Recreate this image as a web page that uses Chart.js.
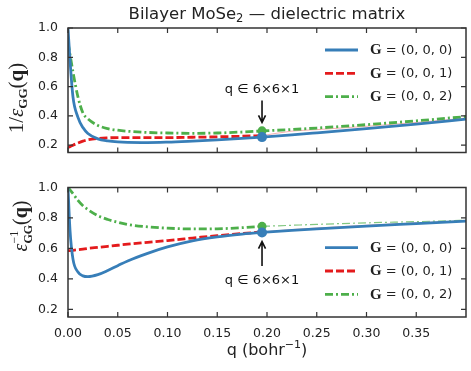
<!DOCTYPE html>
<html lang="en">
<head>
<meta charset="UTF-8">
<title>Bilayer MoSe2 — dielectric matrix</title>
<script src="https://cdn.jsdelivr.net/npm/chart.js"></script>
<style>
  body { margin: 0; background: #fff; }
  #wrap { position: relative; width: 471px; height: 371px; }
  canvas { position: absolute; left: 0; }
  #top { top: 0; }
  #bot { top: 170px; }
</style>
</head>
<body>
<div id="wrap">
  <canvas id="top" width="471" height="170"></canvas>
  <canvas id="bot" width="471" height="201"></canvas>
</div>
<script>
// q sampling (bohr^-1), shared by every curve
const q = [0, 0.002, 0.005, 0.01, 0.015, 0.02, 0.03, 0.04, 0.05, 0.06, 0.08, 0.10, 0.125, 0.15, 0.175, 0.195, 0.225, 0.25, 0.30, 0.35, 0.40];

// top panel: 1/eps_GG(q)
const topG000 = [1.00, 0.78, 0.53, 0.39, 0.32, 0.28, 0.243, 0.229, 0.222, 0.219, 0.218, 0.221, 0.228, 0.236, 0.246, 0.255, 0.270, 0.284, 0.313, 0.344, 0.378];
const topG001 = [0.185, 0.19, 0.20, 0.215, 0.228, 0.237, 0.246, 0.25, 0.252, 0.252, 0.252, 0.252, 0.254, 0.257, 0.261, 0.265, 0.296, 0.306, 0.329, 0.355, 0.385];
const topG002 = [0.90, 0.82, 0.70, 0.53, 0.42, 0.38, 0.335, 0.313, 0.302, 0.295, 0.287, 0.283, 0.281, 0.283, 0.29, 0.297, 0.307, 0.317, 0.34, 0.366, 0.395];

// bottom panel: eps^-1_GG(q)
const botG000 = [1.00, 0.72, 0.53, 0.445, 0.42, 0.415, 0.428, 0.455, 0.487, 0.518, 0.568, 0.610, 0.650, 0.676, 0.694, 0.705, 0.719, 0.729, 0.747, 0.763, 0.779];
const botG001 = [0.585, 0.586, 0.588, 0.592, 0.596, 0.60, 0.607, 0.614, 0.621, 0.628, 0.64, 0.652, 0.668, 0.684, 0.698, 0.708, 0.724, 0.734, 0.752, 0.768, 0.782];
const botG002 = [1.00, 0.985, 0.96, 0.915, 0.88, 0.855, 0.815, 0.79, 0.772, 0.757, 0.742, 0.733, 0.728, 0.729, 0.736, 0.745, 0.752, 0.758, 0.768, 0.776, 0.785];

// the 6x6x1 mesh point
const meshQ = [0.195];
const topDot000 = [0.255];
const topDot002 = [0.298];
const botDot000 = [0.705];
const botDot002 = [0.745];

const xTicks = [0, 0.05, 0.10, 0.15, 0.20, 0.25, 0.30, 0.35];
const yTicks = [0.2, 0.4, 0.6, 0.8, 1.0];
const gLabels = ['(0, 0, 0)', '(0, 0, 1)', '(0, 0, 2)'];

const BLUE = '#377eb8', RED = '#e41a1c', GREEN = '#4daf4a';
const keyStyle = [
  { color: BLUE, dash: [] },
  { color: RED, dash: [8, 3] },
  { color: GREEN, dash: [8, 3, 2, 3] }
];
const SANS = '"DejaVu Sans", sans-serif';
const SERIF = '"Liberation Serif", serif';

function pts(vals, lo, hi) {
  return q.map((x, i) => ({ x: x, y: vals[i] })).filter(p => p.x >= lo && p.x <= hi);
}
function dot(xs, ys) {
  return xs.map((x, i) => ({ x: x, y: ys[i] }));
}

// draws a list of [text, font, dy, advance] runs
function runs(ctx, parts, x, y, align) {
  let w = 0;
  parts.forEach(p => { ctx.font = p[1]; if (p[3] !== false) w += ctx.measureText(p[0]).width; });
  let cx = align === 'center' ? x - w / 2 : x;
  parts.forEach(p => {
    ctx.font = p[1];
    ctx.fillText(p[0], cx, y + (p[2] || 0));
    if (p[3] !== false) cx += ctx.measureText(p[0]).width;
  });
}

const frame = {
  id: 'frame',
  afterDatasetsDraw(chart) {
    const { ctx, chartArea: a, scales: { x, y } } = chart;
    ctx.save();
    ctx.strokeStyle = '#333';
    ctx.lineWidth = 1.5;
    ctx.strokeRect(a.left, a.top, a.right - a.left, a.bottom - a.top);
    ctx.lineWidth = 1.2;
    ctx.beginPath();
    x.ticks.forEach(t => {
      const px = x.getPixelForValue(t.value);
      ctx.moveTo(px, a.bottom); ctx.lineTo(px, a.bottom - 5);
      ctx.moveTo(px, a.top); ctx.lineTo(px, a.top + 5);
    });
    y.ticks.forEach(t => {
      const py = y.getPixelForValue(t.value);
      ctx.moveTo(a.left, py); ctx.lineTo(a.left + 5, py);
      ctx.moveTo(a.right, py); ctx.lineTo(a.right - 5, py);
    });
    ctx.stroke();
    ctx.restore();
  }
};

const keyBox = {
  id: 'keyBox',
  afterDraw(chart, args, opts) {
    const ctx = chart.ctx;
    ctx.save();
    gLabels.forEach((lab, i) => {
      const yy = opts.y + i * opts.step;
      ctx.strokeStyle = keyStyle[i].color;
      ctx.lineWidth = 2.8;
      ctx.setLineDash(keyStyle[i].dash);
      ctx.beginPath();
      ctx.moveTo(opts.x, yy); ctx.lineTo(opts.x + 33, yy);
      ctx.stroke();
      ctx.setLineDash([]);
      ctx.fillStyle = '#222';
      ctx.textBaseline = 'middle';
      runs(ctx, [['G', 'bold 15px ' + SERIF, 0], [' = ' + lab, '13px ' + SANS, 0]], opts.x + 45, yy + 0.5, 'left');
    });
    ctx.restore();
  }
};

const notes = {
  id: 'notes',
  afterDraw(chart, args, opts) {
    const { ctx, scales: { x, y } } = chart;
    ctx.save();
    ctx.fillStyle = '#111';
    ctx.strokeStyle = '#111';
    const px = x.getPixelForValue(opts.q);
    ctx.textAlign = 'center';
    ctx.textBaseline = 'middle';
    ctx.font = '13px ' + SANS;
    ctx.fillText('q ∈ 6×6×1', px, y.getPixelForValue(opts.text));
    const y0 = y.getPixelForValue(opts.from), y1 = y.getPixelForValue(opts.to);
    const d = y1 > y0 ? 1 : -1;
    ctx.lineWidth = 1.6;
    ctx.beginPath();
    ctx.moveTo(px, y0); ctx.lineTo(px, y1);
    ctx.moveTo(px - 3.5, y1 - d * 7); ctx.lineTo(px, y1); ctx.lineTo(px + 3.5, y1 - d * 7);
    ctx.stroke();

    // y axis label, rotated
    ctx.textAlign = 'left';
    ctx.textBaseline = 'alphabetic';
    ctx.fillStyle = '#222';
    ctx.translate(opts.labelX, opts.labelY);
    ctx.rotate(-Math.PI / 2);
    runs(ctx, opts.label, 0, 0, 'center');
    ctx.restore();
  }
};

function lineSet(data, color, dash, width) {
  return { data: data, borderColor: color, borderDash: dash, borderWidth: width, pointRadius: 0, cubicInterpolationMode: 'monotone', fill: false };
}
function dotSet(data, color, r) {
  return { data: data, borderColor: color, backgroundColor: color, showLine: false, pointRadius: r, pointBorderWidth: 0, clip: false };
}

function scalesFor(showX, xHeight) {
  return {
    x: {
      type: 'linear', min: 0, max: 0.4,
      afterBuildTicks: s => { s.ticks = xTicks.map(v => ({ value: v })); },
      afterFit: s => { s.height = xHeight; },
      grid: { display: false, drawTicks: false },
      border: { display: false },
      ticks: { display: showX, padding: 9, color: '#222', font: { family: SANS, size: 12.5 }, callback: v => v.toFixed(2) }
    },
    y: {
      min: 0.15, max: 1.0,
      afterBuildTicks: s => { s.ticks = yTicks.map(v => ({ value: v })); },
      afterFit: s => { s.width = 68; },
      grid: { display: false, drawTicks: false },
      border: { display: false },
      ticks: { padding: 10, color: '#222', font: { family: SANS, size: 12.5 }, callback: v => v.toFixed(1) }
    }
  };
}

const title = {
  id: 'title',
  afterDraw(chart) {
    const ctx = chart.ctx;
    ctx.save();
    ctx.fillStyle = '#222';
    ctx.textBaseline = 'alphabetic';
    runs(ctx, [['Bilayer MoSe', '16.5px ' + SANS, 0], ['2', '11.5px ' + SANS, 3], [' — dielectric matrix', '16.5px ' + SANS, 0]], 267, 18.5, 'center');
    ctx.restore();
  }
};

const xTitle = {
  id: 'xTitle',
  afterDraw(chart) {
    const ctx = chart.ctx;
    ctx.save();
    ctx.fillStyle = '#222';
    ctx.textBaseline = 'alphabetic';
    runs(ctx, [['q (bohr', '16px ' + SANS, 0], ['−1', '11px ' + SANS, -7], [')', '16px ' + SANS, 0]], 267, 185, 'center');
    ctx.restore();
  }
};

new Chart(document.getElementById('top'), {
  type: 'line',
  data: {
    datasets: [
      dotSet(dot(meshQ, topDot000), BLUE, 5),
      dotSet(dot(meshQ, topDot002), GREEN, 4.5),
      lineSet(pts(topG000, 0, 0.4), BLUE, [], 2.8),
      lineSet(pts(topG002, 0, 0.4), GREEN, [8, 3, 2, 3], 2.8),
      lineSet(pts(topG001, 0, 0.195), RED, [8, 3], 2.8),
      lineSet(pts(topG001, 0.195, 0.4), 'rgba(228,26,28,0.35)', [], 1)
    ]
  },
  options: {
    responsive: false, animation: false, devicePixelRatio: 1,
    layout: { padding: { top: 28, right: 4, left: 0, bottom: 0 } },
    scales: scalesFor(false, 10),
    plugins: {
      legend: { display: false }, tooltip: { enabled: false },
      keyBox: { x: 325, y: 50, step: 23.3 },
      notes: {
        q: 0.195, text: 0.58, from: 0.505, to: 0.355, labelX: 23, labelY: 98,
        label: [['1/', '21px ' + SERIF, 0], ['ε', 'italic 21px ' + SERIF, 0], ['GG', 'bold 13px ' + SERIF, 4], ['(', '21px ' + SERIF, 0], ['q', 'bold 21px ' + SERIF, 0], [')', '21px ' + SERIF, 0]]
      }
    }
  },
  plugins: [frame, keyBox, notes, title]
});

new Chart(document.getElementById('bot'), {
  type: 'line',
  data: {
    datasets: [
      dotSet(dot(meshQ, botDot000), BLUE, 5),
      dotSet(dot(meshQ, botDot002), GREEN, 4.5),
      lineSet(pts(botG000, 0, 0.4), BLUE, [], 2.8),
      lineSet(pts(botG002, 0, 0.195), GREEN, [8, 3, 2, 3], 2.8),
      lineSet(pts(botG002, 0.195, 0.4), 'rgba(77,175,74,0.7)', [8, 3, 2, 3], 1.2),
      lineSet(pts(botG001, 0, 0.195), RED, [8, 3], 2.8),
      lineSet(pts(botG001, 0.195, 0.4), 'rgba(228,26,28,0.35)', [], 1)
    ]
  },
  options: {
    responsive: false, animation: false, devicePixelRatio: 1,
    layout: { padding: { top: 15, right: 4, left: 0, bottom: 0 } },
    scales: scalesFor(true, 54),
    plugins: {
      legend: { display: false }, tooltip: { enabled: false },
      keyBox: { x: 325, y: 77.7, step: 23.3 },
      notes: {
        q: 0.195, text: 0.387, from: 0.484, to: 0.645, labelX: 27, labelY: 56,
        label: [['ε', 'italic 20px ' + SERIF, 0], ['−1', '12px ' + SERIF, -9, false], ['GG', 'bold 12px ' + SERIF, 5], ['(', '20px ' + SERIF, 0], ['q', 'bold 20px ' + SERIF, 0], [')', '20px ' + SERIF, 0]]
      }
    }
  },
  plugins: [frame, keyBox, notes, xTitle]
});
</script>
</body>
</html>
